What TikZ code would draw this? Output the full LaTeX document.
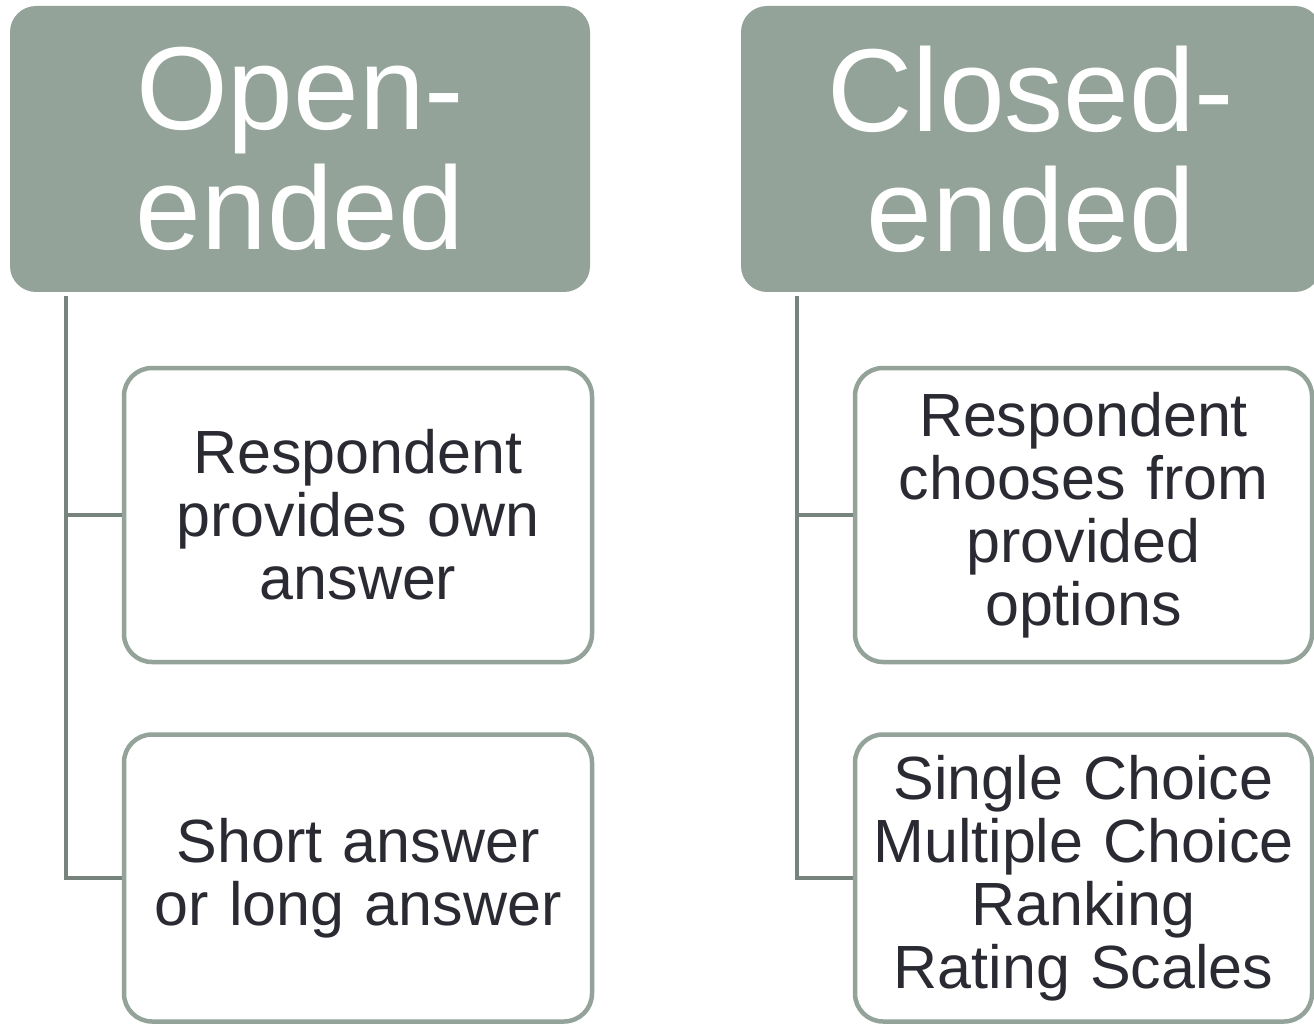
\documentclass[tikz,border=0pt]{standalone}
\usepackage{fontspec}
\setmainfont{Liberation Sans}
\definecolor{hdr}{HTML}{93A399}
\definecolor{conn}{HTML}{77847D}
\definecolor{txt}{HTML}{2A2A33}
\tikzset{
  header/.style={rectangle, rounded corners=26pt, fill=hdr, draw=none,
    minimum width=580pt, minimum height=286pt, text=white, align=center,
    font=\fontsize{118}{120}\selectfont, inner sep=0pt},
  child/.style={rectangle, rounded corners=28pt, fill=white, draw=hdr, line width=4.5pt,
    text width=440pt, align=center, text=txt,
    font=\fontsize{61}{63}\selectfont, inner sep=0pt},
  link/.style={draw=conn, line width=4.5pt}
}
\begin{document}
\begin{tikzpicture}[x=1pt,y=-1pt]
\useasboundingbox (0,0) rectangle (1314,1024);
\clip (0,0) rectangle (1314,1024);
\fill[white] (0,0) rectangle (1314,1024);
% headers
\node[header] (oh) at (300,149) {Open-\\ended};
\node[header] (ch) at (1031,149) {Closed-\\ended};
% left children
\node[child, minimum width=468pt, minimum height=294pt] (l1) at (358,515) {Respondent\\provides own\\answer};
\node[child, minimum width=468pt, minimum height=287pt] (l2) at (358,878) {Short answer\\or long answer};
% right children
\node[child, minimum width=457pt, minimum height=294pt] (r1) at (1083.5,515) {Respondent\\chooses from\\provided\\options};
\node[child, minimum width=457pt, minimum height=287pt] (r2) at (1083.5,878) {Single Choice\\Multiple Choice\\Ranking\\Rating Scales};
% connectors
\coordinate (lt) at (66,296);
\coordinate (rt) at (797,296);
\draw[link] (lt) |- (l1.west);
\draw[link] (lt) |- (l2.west);
\draw[link] (rt) |- (r1.west);
\draw[link] (rt) |- (r2.west);
\end{tikzpicture}
\end{document}
